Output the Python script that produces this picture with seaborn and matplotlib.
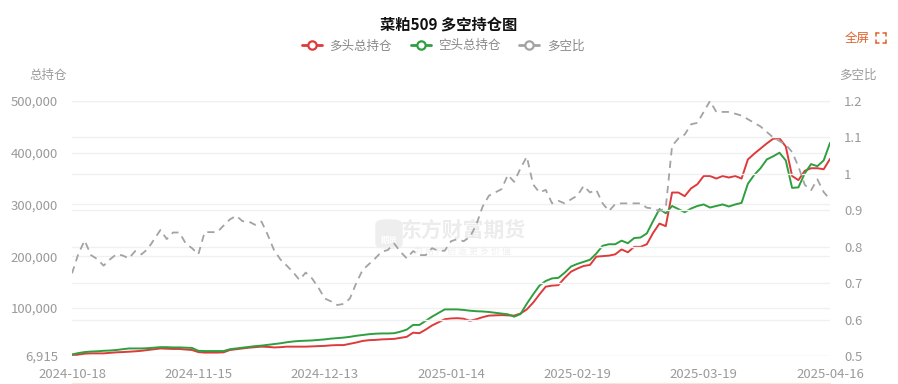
import seaborn as sns
import matplotlib.pyplot as plt
import pandas as pd
from matplotlib.lines import Line2D
from matplotlib.patches import FancyBboxPatch
from matplotlib.ticker import FuncFormatter

# tick labels on the date axis (one label every 20 trading days)
date_labels = ["2024-10-18", "2024-11-15", "2024-12-13", "2025-01-14",
               "2025-02-19", "2025-03-19", "2025-04-16"]

# 多头总持仓
long_oi = [
    6915, 9500, 11500, 12000, 12000, 12000, 13000, 14000, 14500, 15200,
    16000, 17000, 18500, 20000, 21500, 21000, 20500, 20500, 19500, 18500,
    14500, 13500, 13500, 13500, 14000, 18500, 20000, 21500, 23000, 24000,
    25000, 24500, 23500, 24000, 25000, 25000, 25000, 25000, 25500, 26000,
    26500, 27500, 28000, 28000, 30500, 33000, 36000, 37500, 38000, 39000,
    39500, 40000, 42000, 44000, 52000, 51000, 58000, 66000, 72000, 78000,
    79500, 80000, 79000, 75000, 78000, 82000, 85000, 85500, 86000, 85500,
    85000, 89000, 97000, 110000, 126000, 141000, 143000, 144000, 158000, 170000,
    176000, 181000, 183000, 199000, 200000, 201000, 203500, 213000, 207500, 218000,
    218000, 223000, 245000, 263000, 258000, 323000, 323000, 316000, 331000, 339000,
    355000, 355000, 350000, 355000, 352000, 355000, 350000, 387000, 398000, 408000,
    418000, 427000, 428000, 412000, 355000, 347000, 365000, 370000, 370000, 368000,
    388000]

# 空头总持仓
short_oi = [
    10000, 12500, 14500, 15500, 16000, 17000, 17500, 18500, 20000, 21500,
    21500, 21500, 22000, 23000, 24000, 24000, 23500, 23500, 23000, 22500,
    17000, 16500, 16500, 16500, 16500, 20000, 21500, 23000, 24500, 26000,
    27000, 28500, 30000, 31500, 33500, 35000, 36000, 36500, 37000, 38000,
    39000, 40500, 41500, 42500, 44000, 46000, 47500, 49000, 50000, 50500,
    50500, 51000, 54000, 58000, 67000, 67000, 75000, 83000, 90000, 97000,
    97000, 97000, 96000, 94500, 93500, 93000, 92000, 90500, 89000, 87500,
    83000, 88000, 108000, 126000, 143000, 152000, 157000, 158000, 168000, 180000,
    185000, 189000, 193000, 205000, 220000, 223000, 223000, 230000, 225000, 235000,
    236000, 244000, 268000, 291000, 283000, 297000, 291000, 285000, 292000, 297000,
    300000, 294000, 297000, 300000, 296000, 300000, 303000, 340000, 357000, 370000,
    387000, 393000, 400000, 385000, 332000, 333000, 360000, 378000, 374000, 385000,
    419000]

# 多空比
ratio = [
    0.727, 0.78, 0.817, 0.777, 0.766, 0.748, 0.765, 0.779, 0.776, 0.768,
    0.788, 0.779, 0.794, 0.82, 0.846, 0.821, 0.839, 0.839, 0.809, 0.796,
    0.779, 0.84, 0.84, 0.84, 0.858, 0.875, 0.885, 0.87, 0.869, 0.86,
    0.869, 0.832, 0.79, 0.765, 0.748, 0.73, 0.709, 0.729, 0.713, 0.688,
    0.658, 0.65, 0.64, 0.643, 0.658, 0.70, 0.736, 0.752, 0.768, 0.786,
    0.791, 0.809, 0.786, 0.768, 0.788, 0.777, 0.777, 0.796, 0.789, 0.789,
    0.815, 0.821, 0.815, 0.827, 0.86, 0.91, 0.94, 0.949, 0.958, 0.997,
    0.978, 1.015, 1.047, 0.971, 0.949, 0.956, 0.919, 0.926, 0.919, 0.93,
    0.94, 0.967, 0.949, 0.956, 0.919, 0.898, 0.917, 0.919, 0.919, 0.919,
    0.919, 0.907, 0.905, 0.898, 0.907, 1.077, 1.097, 1.108, 1.136, 1.14,
    1.17, 1.2, 1.17, 1.17, 1.17, 1.165, 1.16, 1.15, 1.14, 1.13,
    1.115, 1.1, 1.09, 1.08, 1.06, 1.02, 0.97, 0.955, 0.985, 0.95,
    0.93]

left_ticks = [6915, 100000, 200000, 300000, 400000, 500000]
right_ticks = [0.5, 0.6, 0.7, 0.8, 0.9, 1.0, 1.1, 1.2]

RED = "#dd3b3b"
GREEN = "#2f9e3f"
GRAY = "#a3a3a3"
TXT = "#9a9a9a"

df = pd.DataFrame({"idx": range(len(long_oi)), "long": long_oi,
                   "short": short_oi, "ratio": ratio})

sns.set_theme(style="white")
plt.rcParams["font.family"] = ["Noto Sans CJK SC", "DejaVu Sans"]

W, H = 898, 384
fig = plt.figure(figsize=(W / 100, H / 100), dpi=100)
ax = fig.add_axes([72 / W, 1 - 356 / H, (830 - 72) / W, (356 - 101) / H])
ax2 = ax.twinx()
ax.patch.set_alpha(0)
ax2.patch.set_alpha(0)

sns.lineplot(data=df, x="idx", y="long", ax=ax, color=RED, linewidth=1.4)
sns.lineplot(data=df, x="idx", y="short", ax=ax, color=GREEN, linewidth=1.4)
sns.lineplot(data=df, x="idx", y="ratio", ax=ax2, color=GRAY, linewidth=1.3,
             dashes=False)
ax2.lines[0].set_dashes((4, 3))

n = len(long_oi)
ax.set_xlim(0, n - 1)
ax.set_ylim(left_ticks[0], left_ticks[-1])
ax2.set_ylim(right_ticks[0], right_ticks[-1])

ax.set_xticks(range(0, n, 20))
ax.set_xticklabels(date_labels)
ax.set_yticks(left_ticks)
ax.yaxis.set_major_formatter(FuncFormatter(lambda v, p: f"{int(v):,}"))
ax2.set_yticks(right_ticks)
ax2.set_yticklabels([f"{v:g}" for v in right_ticks])

for a in (ax, ax2):
    a.set_xlabel("")
    a.set_ylabel("")
    for s in a.spines.values():
        s.set_visible(False)
    a.tick_params(length=0, colors=TXT, labelsize=9.5)
    a.yaxis.grid(True, color="#f0f0f0", linewidth=1)
    a.set_axisbelow(True)
ax.tick_params(axis="y", pad=10)
ax2.tick_params(axis="y", pad=10)
ax.tick_params(axis="x", pad=9)

fig.text(449 / W, 1 - 25 / H, "菜粕509 多空持仓图", ha="center", va="center",
         fontsize=11, fontweight="bold", color="#111111")
fig.text(48 / W, 1 - 75 / H, "总持仓", ha="center", va="center",
         fontsize=9, color=TXT)
fig.text(858 / W, 1 - 75 / H, "多空比", ha="center", va="center",
         fontsize=9, color=TXT)

# legend
handles = [Line2D([], [], color=c, linewidth=2, marker="o", markersize=6,
                  markerfacecolor="white", markeredgewidth=1.6)
           for c in (RED, GREEN, GRAY)]
leg = fig.legend(handles, ["多头总持仓", "空头总持仓", "多空比"], ncol=3,
                 loc="center", bbox_to_anchor=(443 / W, 1 - 46 / H), frameon=False,
                 fontsize=9, handlelength=1.6, columnspacing=1.5,
                 handletextpad=0.6)
for t in leg.get_texts():
    t.set_color("#888888")

# 全屏 button
ORANGE = "#e2622e"
fig.text(857 / W, 1 - 38 / H, "全屏", ha="center", va="center",
         fontsize=9, color=ORANGE)
x0, x1, y0, y1 = 876, 886, 33, 43
for (xa, ya, xb, yb) in [(x0, y0 + 3, x0, y0), (x0, y0, x0 + 3, y0),
                         (x1 - 3, y0, x1, y0), (x1, y0, x1, y0 + 3),
                         (x0, y1 - 3, x0, y1), (x0, y1, x0 + 3, y1),
                         (x1 - 3, y1, x1, y1), (x1, y1, x1, y1 - 3)]:
    fig.add_artist(Line2D([xa / W, xb / W], [1 - ya / H, 1 - yb / H],
                          color=ORANGE, linewidth=1.1))

# watermark, behind the (transparent) axes
fig.add_artist(FancyBboxPatch((376 / W, 1 - 248 / H), 26 / W, 28 / H,
                              boxstyle="round,pad=0,rounding_size=0.012",
                              transform=fig.transFigure, color="#eeeeee",
                              zorder=-2))
fig.text(389 / W, 1 - 240 / H, "期货", ha="center", va="center", fontsize=6,
         color="white", fontweight="bold", zorder=-1)
fig.text(463 / W, 1 - 231 / H, "东方财富期货", ha="center", va="center",
         fontsize=15, color="#ececec", fontweight="bold", zorder=-1)
fig.text(463 / W, 1 - 251 / H, "为 用 户 创 造 更 多 价 值", ha="center",
         va="center", fontsize=6.5, color="#eeeeee", zorder=-1)

# faint bottom rule
fig.add_artist(Line2D([72 / W, 830 / W], [1 - 383 / H, 1 - 383 / H],
                      color="#f6e7dd", linewidth=1))

fig.savefig("out.png", dpi=100, facecolor="white")
